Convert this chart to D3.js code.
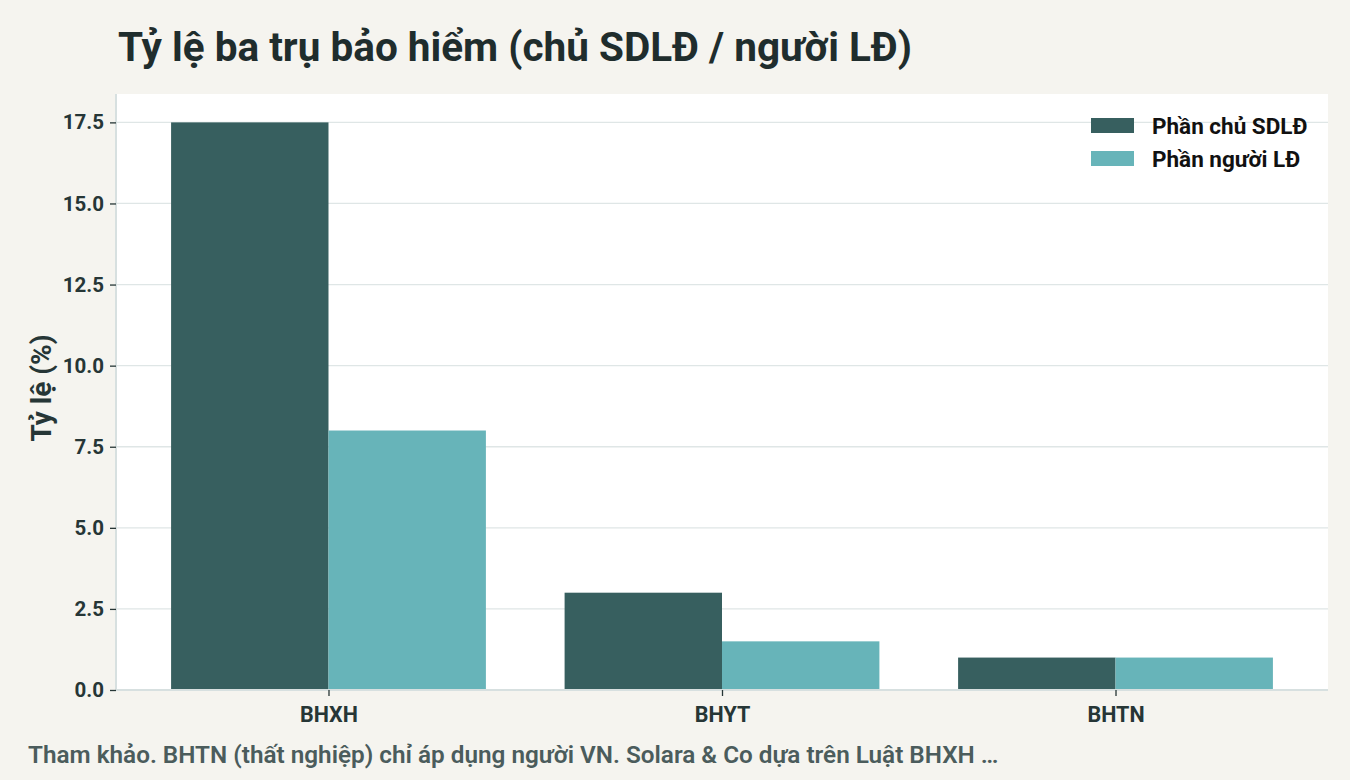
<!DOCTYPE html>
<html>
<head>
<meta charset="utf-8">
<script src="https://cdn.jsdelivr.net/npm/d3@7"></script>
<style>
  body { margin: 0; background: #f5f4ef; }
  svg { display: block; font-family: Roboto, "Noto Sans", sans-serif; }
</style>
</head>
<body>
<svg id="chart" width="1350" height="780"></svg>
<script>
// data
const categories = ["BHXH", "BHYT", "BHTN"];
const seriesNames = ["Phần chủ SDLĐ", "Phần người LĐ"];
const employerShare = [17.5, 3, 1];
const employeeShare = [8, 1.5, 1];
const yTicks = [0, 2.5, 5, 7.5, 10, 12.5, 15, 17.5];

const colors = ["#375f5f", "#67b4b9"];
const ink = "#263636";

const W = 1350, H = 780;
const m = {top: 94, right: 22, bottom: 90, left: 116};
const plotW = W - m.left - m.right;
const plotH = H - m.top - m.bottom;

const svg = d3.select("#chart");

svg.append("rect").attr("width", W).attr("height", H).attr("fill", "#f5f4ef");

// title
svg.append("text")
    .attr("x", 118).attr("y", 61)
    .attr("font-size", 40.5).attr("font-weight", 700)
    .attr("fill", "#1f2d2d")
    .text("Tỷ lệ ba trụ bảo hiểm (chủ SDLĐ / người LĐ)");

const g = svg.append("g").attr("transform", `translate(${m.left},${m.top})`);

g.append("rect").attr("width", plotW).attr("height", plotH).attr("fill", "#ffffff");

// scales: matplotlib-like 5% padding around the bars
const x = d3.scaleLinear().domain([-0.54, categories.length - 1 + 0.54]).range([0, plotW]);
const y = d3.scaleLinear().domain([0, 17.5 * 1.05]).range([plotH, 0]);
const barW = 0.4;

// grid
g.append("g")
    .selectAll("line")
    .data(yTicks)
    .join("line")
    .attr("x1", 0).attr("x2", plotW)
    .attr("y1", d => y(d)).attr("y2", d => y(d))
    .attr("stroke", "#dfe6e6").attr("stroke-width", 1.3);

// bars
const rows = categories.map((c, i) => ({cat: c, i, vals: [employerShare[i], employeeShare[i]]}));
rows.forEach(r => {
    r.vals.forEach((v, k) => {
        g.append("rect")
            .attr("x", x(r.i + (k === 0 ? -barW : 0)))
            .attr("y", y(v))
            .attr("width", x(barW) - x(0))
            .attr("height", y(0) - y(v))
            .attr("fill", colors[k]);
    });
});

// axes
const yAxis = g.append("g")
    .call(d3.axisLeft(y).tickValues(yTicks).tickFormat(d3.format(".1f")).tickSize(6).tickPadding(6));
const xAxis = g.append("g")
    .attr("transform", `translate(0,${plotH})`)
    .call(d3.axisBottom(x).tickValues(categories.map((c, i) => i)).tickFormat(i => categories[i]).tickSize(6).tickPadding(11));

[yAxis, xAxis].forEach(a => {
    a.select(".domain").attr("stroke", "#d7e0e0").attr("stroke-width", 2);
    a.selectAll(".tick line").attr("stroke", ink).attr("stroke-width", 1.3);
    a.selectAll(".tick text")
        .attr("fill", ink).attr("font-weight", 700)
        .attr("font-family", "Roboto, sans-serif");
});
yAxis.selectAll(".tick text").attr("font-size", 20.5);
xAxis.selectAll(".tick text").attr("font-size", 21.5);
yAxis.select(".domain").attr("d", `M0,0V${plotH}`);
xAxis.select(".domain").attr("d", `M0,0H${plotW}`);

// y label
svg.append("text")
    .attr("transform", `translate(51,${m.top + plotH / 2 - 4}) rotate(-90)`)
    .attr("text-anchor", "middle")
    .attr("font-size", 28).attr("font-weight", 700)
    .attr("fill", ink)
    .text("Tỷ lệ (%)");

// legend
const legend = svg.append("g").attr("transform", "translate(1091,118)");
seriesNames.forEach((s, k) => {
    const row = legend.append("g").attr("transform", `translate(0,${k * 33})`);
    row.append("rect").attr("width", 43).attr("height", 15).attr("fill", colors[k]);
    row.append("text")
        .attr("x", 61).attr("y", 16)
        .attr("font-size", 22.5).attr("font-weight", 700)
        .attr("fill", "#111")
        .text(s);
});

// footer note
svg.append("text")
    .attr("x", 28).attr("y", 763)
    .attr("font-size", 24.3).attr("font-weight", 600)
    .attr("fill", "#4b5c5c")
    .text("Tham khảo. BHTN (thất nghiệp) chỉ áp dụng người VN. Solara & Co dựa trên Luật BHXH …");
</script>
</body>
</html>
